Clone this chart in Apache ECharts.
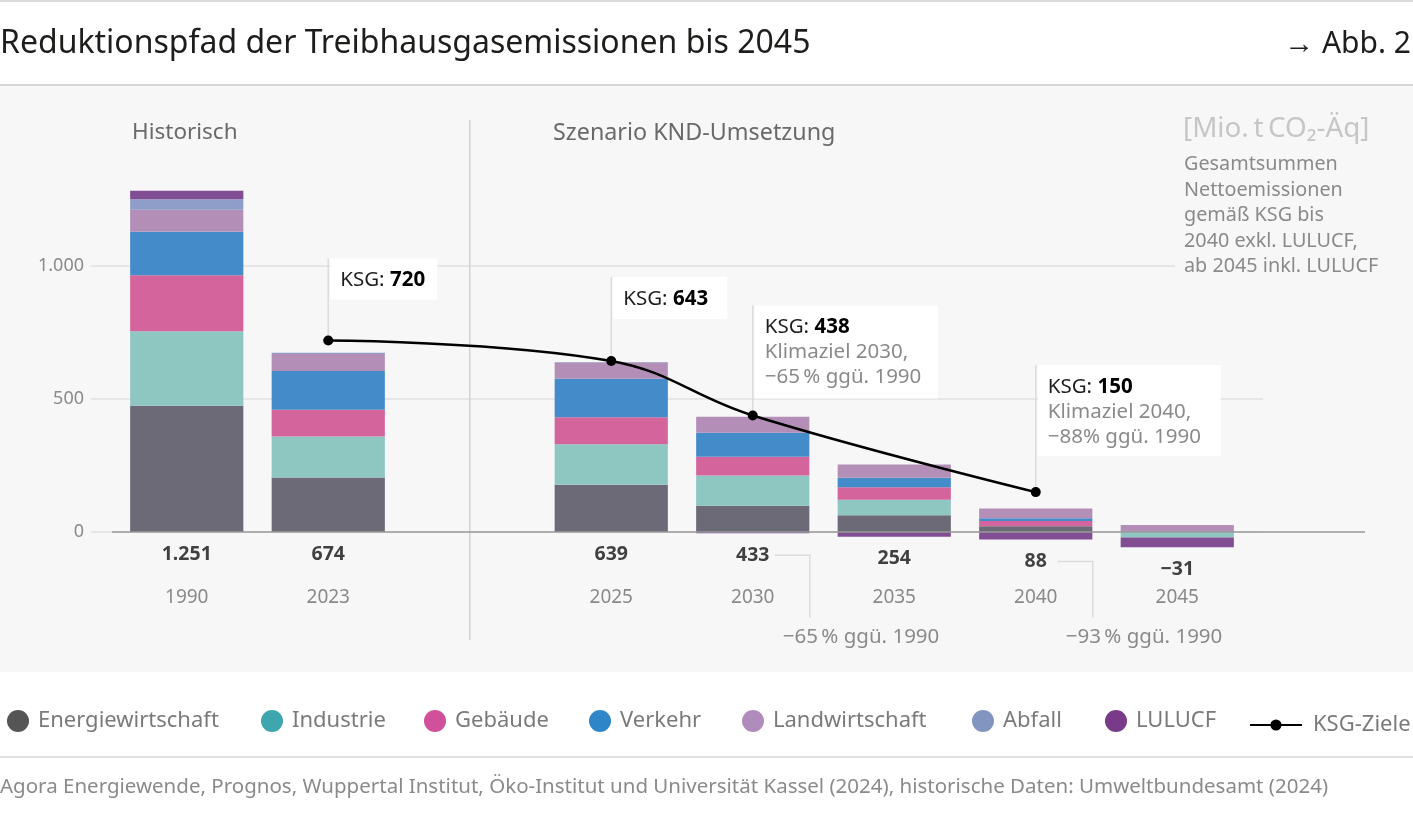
<!DOCTYPE html>
<html lang="de">
<head>
<meta charset="utf-8">
<title>Reduktionspfad der Treibhausgasemissionen bis 2045</title>
<script src="https://cdn.jsdelivr.net/npm/echarts@6/dist/echarts.min.js"></script>
<style>
  html, body { margin: 0; padding: 0; background: #fff; }
  #chart { width: 1413px; height: 816px; }
</style>
</head>
<body>
<div id="chart"></div>
<script>
// Werte in Mio. t CO2-Äq
const categories = ['1990', '2023', '', '2025', '2030', '2035', '2040', '2045'];
const energie = [475, 205, null, 178, 99, 63, 22, 0];
const industrie = [280, 154, null, 152, 113, 58, 0, -21];
const gebaeude = [210, 101, null, 101, 71, 47, 19, 0];
const verkehr = [164, 145, null, 145, 90, 36, 11, 0];
const landwirtschaft = [82, 64, null, 61, 60, 50, 36, 26];
const abfall = [40, 5, null, 2, 0, 0, 0, 0];
const lulucf = [32, 0, null, 0, -5, -18, -28, -36];
const totals = [1251, 674, null, 639, 433, 254, 88, -31];
const ksgTargets = [null, 720, null, 643, 438, null, 150, null];
const yTicks = [0, 500, 1000];

const FONT = '"Noto Sans", "Open Sans", sans-serif';
const GREY = '#8a8a8a';

const sectors = [
  { name: 'Energiewirtschaft', data: energie, bar: '#6b6a76', dot: '#555555' },
  { name: 'Industrie', data: industrie, bar: '#8ec6c2', dot: '#3ea6ae' },
  { name: 'Gebäude', data: gebaeude, bar: '#d3659c', dot: '#d0509a' },
  { name: 'Verkehr', data: verkehr, bar: '#448bca', dot: '#2e86c8' },
  { name: 'Landwirtschaft', data: landwirtschaft, bar: '#b38fb8', dot: '#b08cbc' },
  { name: 'Abfall', data: abfall, bar: '#8f9ec8', dot: '#8294c0' },
  { name: 'LULUCF', data: lulucf, bar: '#814d93', dot: '#7a3a8a' }
];
const legendLefts = [2, 256, 419, 584, 737, 967, 1100];

const fmt = (v) => {
  const s = String(Math.abs(v)).replace(/\B(?=(\d{3})+(?!\d))/g, '.');
  return v < 0 ? '\u2212' + s : s;
};

// Unterkante jedes Balkens (Summe der negativen Anteile)
const bottoms = categories.map((c, i) => {
  if (totals[i] == null) return null;
  return sectors.reduce((acc, s) => acc + Math.min(0, s.data[i] || 0), 0);
});

const chart = echarts.init(document.getElementById('chart'));

const txt = (x, y, text, size, color, extra) => ({
  type: 'text', x: x, y: y, z: 20,
  style: Object.assign({
    text: text, fill: color, fontSize: size, fontFamily: FONT,
    align: 'left', verticalAlign: 'middle', textAlign: 'left', textVerticalAlign: 'middle'
  }, extra || {})
});
const hline = (x1, x2, y, color, w, z) => ({
  type: 'line', z: z, shape: { x1: x1, y1: y, x2: x2, y2: y },
  style: { stroke: color, lineWidth: w }
});

const staticGraphics = [
  { type: 'rect', z: -10, shape: { x: 0, y: 86, width: 1413, height: 586 }, style: { fill: '#f7f7f7' } },
  hline(0, 1413, 1, '#d0d0d0', 1.5, 20),
  hline(0, 1413, 85, '#c8c8c8', 1.5, 20),
  hline(0, 1413, 757, '#d6d6d6', 1.5, 20),
  txt(0, 44, 'Reduktionspfad der Treibhausgasemissionen bis 2045', 32, '#1d1d1b'),
  txt(1411, 44, '\u2192 Abb. 2', 30, '#1d1d1b', { align: 'right', textAlign: 'right' }),
  txt(132, 133, 'Historisch', 22.5, '#6a6a6a'),
  txt(553, 133, 'Szenario KND-Umsetzung', 23.3, '#6a6a6a'),
  txt(1183, 129, '[Mio.\u2009t\u2009CO\u2082-Äq]', 27.8, '#c6c6c6'),
  txt(1184, 164, 'Gesamtsummen', 19.8, GREY),
  txt(1184, 190, 'Nettoemissionen', 19.8, GREY),
  txt(1184, 215, 'gemäß KSG bis', 19.8, GREY),
  txt(1184, 241, '2040 exkl. LULUCF,', 19.8, GREY),
  txt(1184, 266, 'ab 2045 inkl. LULUCF', 19.8, GREY),
  txt(0, 787, 'Agora Energiewende, Prognos, Wuppertal Institut, Öko-Institut und Universität Kassel (2024), historische Daten: Umweltbundesamt (2024)', 20.5, GREY)
];

const barSeries = sectors.map((s) => ({
  name: s.name,
  type: 'bar',
  stack: 'total',
  barWidth: '80%',
  data: s.data,
  itemStyle: { color: s.bar },
  emphasis: { disabled: true }
}));

const legends = sectors.map((s, i) => ({
  data: [{ name: s.name, icon: 'circle', itemStyle: { color: s.dot } }],
  left: legendLefts[i],
  top: 705,
  itemWidth: 22,
  itemHeight: 22,
  selectedMode: false,
  textStyle: { color: '#7a7a7a', fontSize: 22, fontFamily: FONT, padding: [0, 0, 0, 4] }
}));
legends.push({
  data: [{ name: 'KSG-Ziele' }],
  left: 1244,
  top: 709,
  itemWidth: 52,
  itemHeight: 14,
  selectedMode: false,
  textStyle: { color: '#7a7a7a', fontSize: 22, fontFamily: FONT, padding: [0, 0, 0, 6] }
});

chart.setOption({
  backgroundColor: '#ffffff',
  animation: false,
  textStyle: { fontFamily: FONT },
  grid: { left: 116, right: 165, top: 133, bottom: 151 },
  legend: legends,
  xAxis: {
    type: 'category',
    data: categories,
    axisLine: { show: false, onZero: false },
    axisTick: { show: false },
    // Achse liegt am Gitterrand (-500); Jahreszahlen unterhalb der Nulllinie
    axisLabel: { color: GREY, fontSize: 19, margin: -77, fontFamily: FONT }
  },
  yAxis: {
    type: 'value',
    min: -500,
    max: 1500,
    interval: 500,
    splitLine: { show: false },
    axisLine: { show: false },
    axisTick: { show: false },
    axisLabel: {
      color: GREY, fontSize: 18, margin: 32, fontFamily: FONT,
      formatter: (v) => (yTicks.indexOf(v) >= 0 ? fmt(v) : '')
    }
  },
  series: barSeries.concat([
    {
      name: 'KSG-Ziele',
      type: 'line',
      data: ksgTargets,
      connectNulls: true,
      smooth: 0.4,
      symbol: 'circle',
      symbolSize: 10,
      z: 4,
      lineStyle: { color: '#000', width: 2.5 },
      itemStyle: { color: '#000' },
      emphasis: { disabled: true }
    },
    {
      name: 'Summe',
      type: 'scatter',
      symbolSize: 0,
      z: 5,
      data: bottoms.map((b, i) => (b == null ? null : [i, b])),
      label: {
        show: true,
        position: 'bottom',
        distance: 12,
        color: '#111',
        fontSize: 19.5,
        fontWeight: 'bold',
        fontFamily: FONT,
        formatter: (p) => fmt(totals[p.dataIndex])
      },
      emphasis: { disabled: true }
    }
  ]),
  graphic: staticGraphics
});

// Hilfslinien, Trenner und Beschriftungen aus den Achsen-Skalen ableiten
const toPx = (i, v) => chart.convertToPixel({ xAxisIndex: 0, yAxisIndex: 0 }, [i, v]);
const yPx = (v) => toPx(0, v)[1];

const dyn = [];
yTicks.forEach((v) => {
  dyn.push(hline(91, v === 1000 ? 1175 : 1263, yPx(v), '#e6e6e6', 2, 0));
});
dyn.push(hline(112, 1365, yPx(0), '#9a9a9a', 1.5, 6));

const divX = toPx(2, 0)[0];
dyn.push({ type: 'line', z: 0, shape: { x1: divX, y1: 120, x2: divX, y2: 640 }, style: { stroke: '#d4d4d4', lineWidth: 1.5 } });

const callouts = [
  { idx: 1, rise: 82, w: 107, h: 41, lines: [] },
  { idx: 3, rise: 84, w: 114, h: 42, lines: [] },
  { idx: 4, rise: 110, w: 183, h: 93, lines: ['Klimaziel 2030,', '\u221265\u2009% ggü. 1990'] },
  { idx: 6, rise: 127, w: 183, h: 91, lines: ['Klimaziel 2040,', '\u221288% ggü. 1990'] }
];
callouts.forEach((c) => {
  const p = toPx(c.idx, ksgTargets[c.idx]);
  const top = p[1] - c.rise;
  dyn.push({ type: 'line', z: 1, shape: { x1: p[0], y1: p[1], x2: p[0], y2: top }, style: { stroke: '#dcdcdc', lineWidth: 1.5 } });
  dyn.push({ type: 'rect', z: 1, shape: { x: p[0] + 2, y: top, width: c.w, height: c.h }, style: { fill: '#ffffff' } });
  dyn.push(txt(p[0] + 12, top + 22, '{a|KSG: }{b|' + ksgTargets[c.idx] + '}', 20.5, '#1d1d1b', {
    rich: {
      a: { fontSize: 20.5, fontFamily: FONT, fill: '#1d1d1b', color: '#1d1d1b' },
      b: { fontSize: 20.5, fontFamily: FONT, fontWeight: 'bold', fill: '#000', color: '#000' }
    }
  }));
  c.lines.forEach((l, k) => dyn.push(txt(p[0] + 12, top + 22 + 25 * (k + 1), l, 20.5, GREY)));
});

const reductions = [
  { idx: 4, text: '\u221265\u2009% ggü. 1990' },
  { idx: 6, text: '\u221293\u2009% ggü. 1990' }
];
reductions.forEach((r) => {
  const x = toPx(r.idx, 0)[0];
  const y = yPx(bottoms[r.idx]) + 22;
  dyn.push({
    type: 'polyline', z: 1,
    shape: { points: [[x + 22, y], [x + 57, y], [x + 57, 618]] },
    style: { stroke: '#dcdcdc', lineWidth: 1.5, fill: null }
  });
  dyn.push(txt(x + 30, 637, r.text, 20.5, GREY));
});

chart.setOption({ graphic: staticGraphics.concat(dyn) });
</script>
</body>
</html>
